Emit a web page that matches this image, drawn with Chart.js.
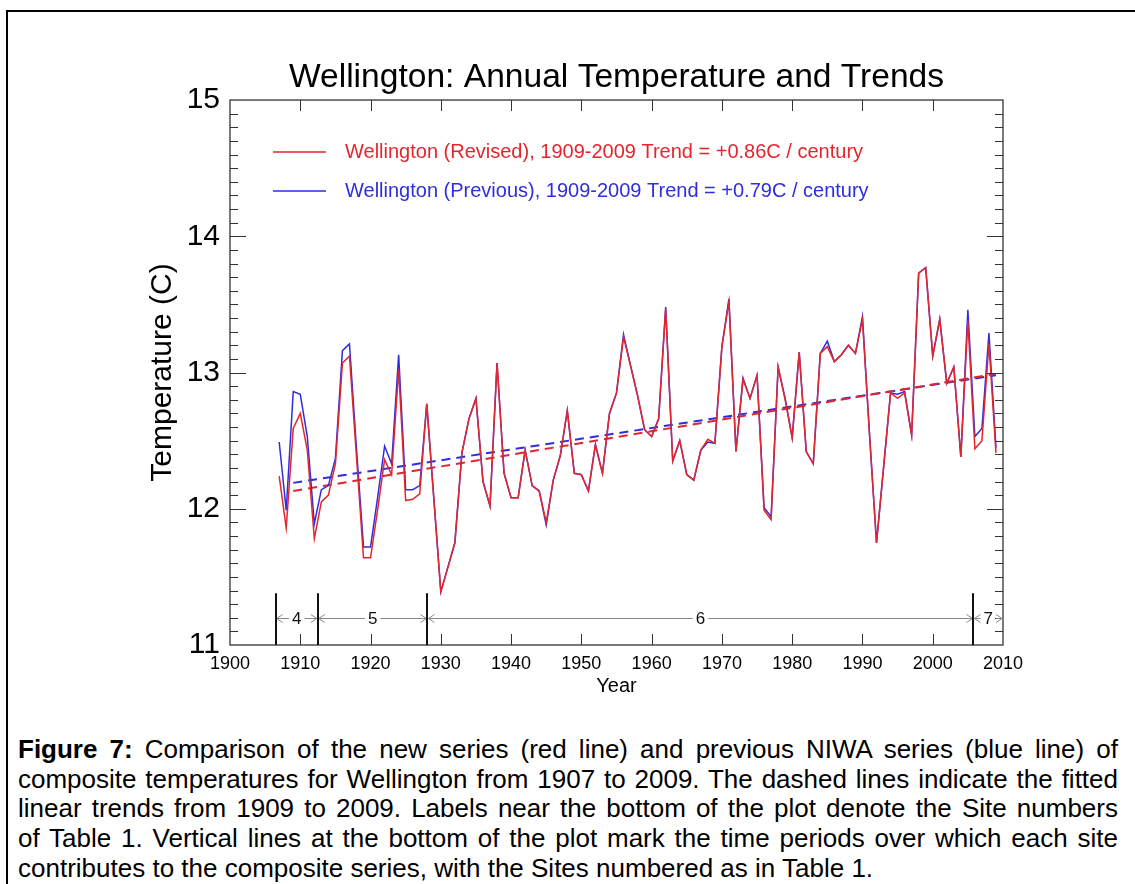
<!DOCTYPE html>
<html>
<head>
<meta charset="utf-8">
<script src="https://cdn.jsdelivr.net/npm/chart.js@4.4.1/dist/chart.umd.min.js"></script>
<style>
  body { margin: 0; background: #fff; width: 1135px; height: 884px; overflow: hidden; position: relative;
         font-family: "Liberation Sans", Arial, Helvetica, sans-serif; }
  #frame { position: absolute; left: 6px; top: 10px; width: 1140px; height: 900px;
           border-top: 2px solid #000; border-left: 2px solid #000; }
  #wrap { position: absolute; left: 0; top: 0; width: 1135px; height: 700px; }
  #caption { position: absolute; left: 18px; top: 735px; width: 1100px; font-size: 26px; line-height: 29.7px; color: #000; }
  #caption .j { text-align: justify; text-align-last: justify; }
</style>
</head>
<body>
<div id="frame"></div>
<div id="wrap"><canvas id="tempChart" width="1135" height="700"></canvas></div>
<div id="caption">
  <div class="j"><b>Figure 7:</b> Comparison of the new series (red line) and previous NIWA series (blue line) of</div>
  <div class="j">composite temperatures for Wellington from 1907 to 2009. The dashed lines indicate the fitted</div>
  <div class="j">linear trends from 1909 to 2009. Labels near the bottom of the plot denote the Site numbers</div>
  <div class="j">of Table 1. Vertical lines at the bottom of the plot mark the time periods over which each site</div>
  <div>contributes to the composite series, with the Sites numbered as in Table 1.</div>
</div>
<script>
// Годы
const years = [
  1907, 1908, 1909, 1910, 1911, 1912, 1913, 1914, 1915, 1916,
  1917, 1918, 1919, 1920, 1921, 1922, 1923, 1924, 1925, 1926,
  1927, 1928, 1929, 1930, 1931, 1932, 1933, 1934, 1935, 1936,
  1937, 1938, 1939, 1940, 1941, 1942, 1943, 1944, 1945, 1946,
  1947, 1948, 1949, 1950, 1951, 1952, 1953, 1954, 1955, 1956,
  1957, 1958, 1959, 1960, 1961, 1962, 1963, 1964, 1965, 1966,
  1967, 1968, 1969, 1970, 1971, 1972, 1973, 1974, 1975, 1976,
  1977, 1978, 1979, 1980, 1981, 1982, 1983, 1984, 1985, 1986,
  1987, 1988, 1989, 1990, 1991, 1992, 1993, 1994, 1995, 1996,
  1997, 1998, 1999, 2000, 2001, 2002, 2003, 2004, 2005, 2006,
  2007, 2008, 2009
];

// Новая серия (красная)
const revised = [
  12.24, 11.86, 12.59, 12.70, 12.43, 11.78, 12.05, 12.10, 12.33, 13.07,
  13.12, 12.38, 11.64, 11.64, 11.99, 12.36, 12.25, 13.02, 12.06, 12.07,
  12.11, 12.77, 12.08, 11.39, 11.57, 11.75, 12.41, 12.66, 12.81, 12.20,
  12.02, 13.07, 12.26, 12.08, 12.08, 12.43, 12.17, 12.13, 11.90, 12.21,
  12.39, 12.72, 12.26, 12.25, 12.13, 12.47, 12.26, 12.70, 12.85, 13.26,
  13.05, 12.83, 12.58, 12.53, 12.66, 13.47, 12.35, 12.50, 12.25, 12.21,
  12.43, 12.51, 12.48, 13.19, 13.52, 12.42, 12.95, 12.81, 12.98, 11.99,
  11.92, 13.04, 12.80, 12.52, 13.15, 12.42, 12.33, 13.14, 13.19, 13.08,
  13.13, 13.20, 13.14, 13.39, 12.55, 11.75, 12.30, 12.85, 12.81, 12.85,
  12.54, 13.73, 13.77, 13.12, 13.39, 12.92, 13.04, 12.38, 13.38, 12.44,
  12.50, 13.21, 12.41
];

// Предыдущая серия NIWA (синяя)
const previous = [
  12.49, 11.99, 12.86, 12.84, 12.53, 11.89, 12.14, 12.17, 12.37, 13.16,
  13.21, 12.44, 11.72, 11.72, 12.08, 12.46, 12.33, 13.13, 12.14, 12.14,
  12.17, 12.77, 12.08, 11.39, 11.57, 11.75, 12.41, 12.66, 12.81, 12.20,
  12.02, 13.07, 12.26, 12.08, 12.08, 12.43, 12.17, 12.13, 11.88, 12.21,
  12.39, 12.72, 12.26, 12.25, 12.13, 12.47, 12.26, 12.70, 12.85, 13.28,
  13.05, 12.83, 12.58, 12.53, 12.66, 13.48, 12.35, 12.50, 12.25, 12.21,
  12.43, 12.49, 12.48, 13.19, 13.54, 12.42, 12.96, 12.81, 12.98, 12.01,
  11.94, 13.04, 12.81, 12.52, 13.15, 12.42, 12.33, 13.14, 13.23, 13.08,
  13.13, 13.20, 13.14, 13.41, 12.55, 11.75, 12.30, 12.85, 12.84, 12.86,
  12.54, 13.73, 13.77, 13.12, 13.39, 12.92, 13.04, 12.38, 13.46, 12.53,
  12.59, 13.29, 12.45
];

// Линейные тренды 1909-2009 (концы линий)
const trendYears = [1909, 2009];
const revisedTrend = [12.13, 12.99];
const previousTrend = [12.19, 12.98];

// Периоды станций внизу графика
const siteBounds = [1906.5, 1912.5, 1928.1, 2005.8, 2010];
const siteNames = ['4', '5', '6', '7'];

const RED = '#e3262e';
const BLUE = '#2e2ee0';

Chart.defaults.font.family = '"Liberation Sans", Arial, Helvetica, sans-serif';
Chart.defaults.color = '#000';

function toPoints(xs, ys) {
    return xs.map((x, i) => ({ x: x, y: ys[i] }));
}

// Рамка, засечки, легенда и отметки станций
const decorPlugin = {
    id: 'decor',
    afterDraw(chart) {
        const ctx = chart.ctx;
        const a = chart.chartArea;
        const xs = chart.scales.x;
        const ys = chart.scales.y;
        ctx.save();

        // рамка
        ctx.strokeStyle = '#333';
        ctx.lineWidth = 1.3;
        ctx.strokeRect(a.left, a.top, a.right - a.left, a.bottom - a.top);

        // засечки X
        ctx.beginPath();
        for (let v = 1910; v < 2010; v += 10) {
            const px = Math.round(xs.getPixelForValue(v)) + 0.5;
            ctx.moveTo(px, a.bottom); ctx.lineTo(px, a.bottom - 11);
            ctx.moveTo(px, a.top); ctx.lineTo(px, a.top + 11);
        }
        // засечки Y
        for (let k = 1; k < 40; k++) {
            const v = 11 + k / 10;
            const py = Math.round(ys.getPixelForValue(v)) + 0.5;
            const len = (k % 10 === 0) ? 16 : 8;
            ctx.moveTo(a.left, py); ctx.lineTo(a.left + len, py);
            ctx.moveTo(a.right, py); ctx.lineTo(a.right - len, py);
        }
        ctx.lineWidth = 1;
        ctx.stroke();

        // легенда
        const legend = [
            { text: 'Wellington (Revised), 1909-2009 Trend = +0.86C / century', color: RED },
            { text: 'Wellington (Previous), 1909-2009 Trend = +0.79C / century', color: BLUE }
        ];
        ctx.font = '20px "Liberation Sans", Arial, sans-serif';
        ctx.textBaseline = 'middle';
        ctx.textAlign = 'left';
        legend.forEach((item, i) => {
            const y = a.top + 52 + i * 39;
            ctx.strokeStyle = item.color;
            ctx.lineWidth = 1.5;
            ctx.beginPath();
            ctx.moveTo(a.left + 43, y); ctx.lineTo(a.left + 96, y);
            ctx.stroke();
            ctx.fillStyle = item.color;
            ctx.fillText(item.text, a.left + 115, y);
        });

        // станции
        const yTop = ys.getPixelForValue(11.38);
        const yArr = Math.round(ys.getPixelForValue(11.2)) + 0.5;
        ctx.font = '17px "Liberation Sans", Arial, sans-serif';
        ctx.textAlign = 'center';
        for (let i = 0; i < siteNames.length; i++) {
            const x1 = xs.getPixelForValue(siteBounds[i]);
            const x2 = xs.getPixelForValue(siteBounds[i + 1]);
            const mid = (x1 + x2) / 2;
            const half = ctx.measureText(siteNames[i]).width / 2 + 3;
            ctx.strokeStyle = '#888';
            ctx.lineWidth = 1;
            ctx.beginPath();
            ctx.moveTo(x1, yArr); ctx.lineTo(mid - half, yArr);
            ctx.moveTo(mid + half, yArr); ctx.lineTo(x2, yArr);
            // наконечники
            ctx.moveTo(x1 + 7, yArr - 4); ctx.lineTo(x1 + 1, yArr); ctx.lineTo(x1 + 7, yArr + 4);
            ctx.moveTo(x2 - 7, yArr - 4); ctx.lineTo(x2 - 1, yArr); ctx.lineTo(x2 - 7, yArr + 4);
            ctx.stroke();
            ctx.fillStyle = '#111';
            ctx.fillText(siteNames[i], mid, yArr + 1);
        }
        ctx.strokeStyle = '#111';
        ctx.lineWidth = 2;
        ctx.beginPath();
        for (let i = 0; i < siteBounds.length - 1; i++) {
            const x = Math.round(xs.getPixelForValue(siteBounds[i]));
            ctx.moveTo(x, a.bottom); ctx.lineTo(x, yTop);
        }
        ctx.stroke();
        ctx.restore();
    }
};

const ctx = document.getElementById('tempChart').getContext('2d');
new Chart(ctx, {
    type: 'line',
    data: {
        datasets: [
            { label: 'Revised', data: toPoints(years, revised), borderColor: RED, borderWidth: 1.5, pointRadius: 0, tension: 0 },
            { label: 'Previous', data: toPoints(years, previous), borderColor: BLUE, borderWidth: 1.5, pointRadius: 0, tension: 0 },
            { label: 'Revised trend', data: toPoints(trendYears, revisedTrend), borderColor: RED, borderWidth: 2, borderDash: [9, 6], pointRadius: 0 },
            { label: 'Previous trend', data: toPoints(trendYears, previousTrend), borderColor: BLUE, borderWidth: 2, borderDash: [9, 6], pointRadius: 0 }
        ]
    },
    options: {
        responsive: false,
        animation: false,
        layout: { padding: { left: 135, right: 132, top: 0, bottom: 0 } },
        scales: {
            x: {
                type: 'linear', min: 1900, max: 2010,
                ticks: { stepSize: 10, callback: v => String(v), font: { size: 18 }, color: '#000', padding: 8, maxRotation: 0, autoSkip: false },
                grid: { display: false, drawTicks: false },
                border: { display: false },
                title: { display: true, text: 'Year', font: { size: 20 }, color: '#000', padding: { top: 0, bottom: 2 } },
                afterFit: s => { s.height = 55; }
            },
            y: {
                min: 11, max: 15,
                ticks: { stepSize: 1, font: { size: 30 }, color: '#000', padding: 10 },
                grid: { display: false, drawTicks: false },
                border: { display: false },
                title: { display: true, text: 'Temperature (C)', font: { size: 30 }, color: '#000', padding: { top: 10, bottom: 0 } },
                afterFit: s => { s.width = 95; }
            }
        },
        plugins: {
            legend: { display: false },
            tooltip: { enabled: false },
            title: {
                display: true,
                fullSize: false,
                text: 'Wellington: Annual Temperature and Trends',
                font: { size: 33.6, weight: 'normal' },
                color: '#000',
                padding: { top: 58, bottom: 1.7 }
            }
        }
    },
    plugins: [decorPlugin]
});
</script>
</body>
</html>
